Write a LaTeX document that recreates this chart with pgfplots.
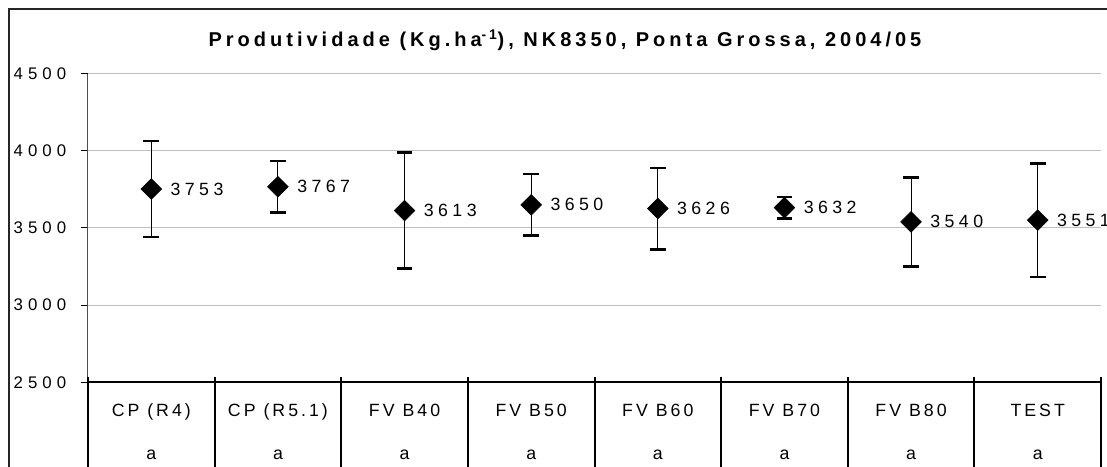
\documentclass[border=0pt]{standalone}
\usepackage{fontspec}
\usepackage{pgfplots}
\pgfplotsset{compat=1.18}
\usepackage{pgfplotstable}
\setmainfont{Liberation Sans}
\newfontfamily\tickfam{Liberation Sans}[LetterSpace=30]
\newfontfamily\labfam{Liberation Sans}[LetterSpace=25]
\newfontfamily\catfam{Liberation Sans}[LetterSpace=17]
\newfontfamily\titfam{Liberation Sans}[LetterSpace=20]
\newcommand\tickfont{\tickfam\fontsize{12.6}{15}\selectfont}
\newcommand\labfont{\labfam\fontsize{13.3}{16}\selectfont}
\newcommand\catfont{\catfam\fontsize{13.3}{16}\selectfont}
\newcommand\afont{\catfam\fontsize{16}{19}\selectfont}
\newcommand\titfont{\titfam\bfseries\fontsize{15}{18}\selectfont}

\pgfplotstableread{
x y e lab
0 3753 310 3753
1 3767 166 3767
2 3613 375 3613
3 3650 200 3650
4 3626 264 3626
5 3632 70 3632
6 3540 288 3540
7 3551 368 3551
}\data

\begin{document}
\begin{tikzpicture}
\begin{scope}[x=0.75pt,y=0.75pt]
\fill[white] (0,0) rectangle (1107,467);
\draw[line width=1.5pt, black!85] (9,-20) rectangle (1140,458);
\node[font=\titfont, anchor=base] at (565,420.3) {Produtividade (Kg.ha\textsuperscript{-1}), NK8350, Ponta Grossa, 2004/05};
\end{scope}
\begin{axis}[
  at={(66pt,63.525pt)}, anchor=south west,
  scale only axis, width=759.75pt, height=231.45pt,
  xmin=-0.5, xmax=7.5, ymin=2500, ymax=4500,
  clip=false,
  axis x line*=bottom, axis y line*=left, axis line style={-},
  x axis line style={line width=1.5pt, black},
  y axis line style={line width=0.75pt, black!70},
  ytick={2500,3000,3500,4000,4500},
  yticklabels={2500,3000,3500,4000,4500},
  ymajorgrids, major grid style={gray!50, line width=0.75pt},
  ytick style={black, line width=0.75pt},
  tick align=outside, major tick length=5.25pt,
  xtick={0,...,7},
  xtick style={draw=none},
  xticklabels={CP (R4),CP (R5.1),FV B40,FV B50,FV B60,FV B70,FV B80,TEST},
  xticklabel style={font=\catfont, anchor=base, yshift=-20.5pt},
  extra x ticks={0,...,7},
  extra x tick labels={a,a,a,a,a,a,a,a},
  extra x tick style={tick label style={font=\afont, anchor=base, yshift=-32.4pt}},
  yticklabel style={font=\tickfont, anchor=east, inner sep=0pt, xshift=-10.9pt},
]
\addplot[only marks, black, mark=square*, mark size=5.5pt,
  mark options={rotate=45, fill=black, draw=black},
  nodes near coords, point meta=explicit symbolic,
  every node near coord/.append style={anchor=west, inner sep=0pt, xshift=14.3pt, yshift=0pt, font=\labfont, black},
  error bars/.cd, y dir=both, y explicit,
  error bar style={line width=0.75pt, black},
  error mark options={rotate=90, mark size=5.9pt, line width=1.9pt, black}]
  table[x=x, y=y, y error=e, meta=lab]{\data};
\end{axis}
\begin{scope}[x=0.75pt,y=0.75pt]
\foreach \k in {0,...,8} \draw[line width=1.5pt, black] ({88+126.625*\k},90) -- ({88+126.625*\k},-30);
\end{scope}
\pgfresetboundingbox
\path[use as bounding box] (0,0) rectangle (830.25pt,350.25pt);
\end{tikzpicture}
\end{document}
